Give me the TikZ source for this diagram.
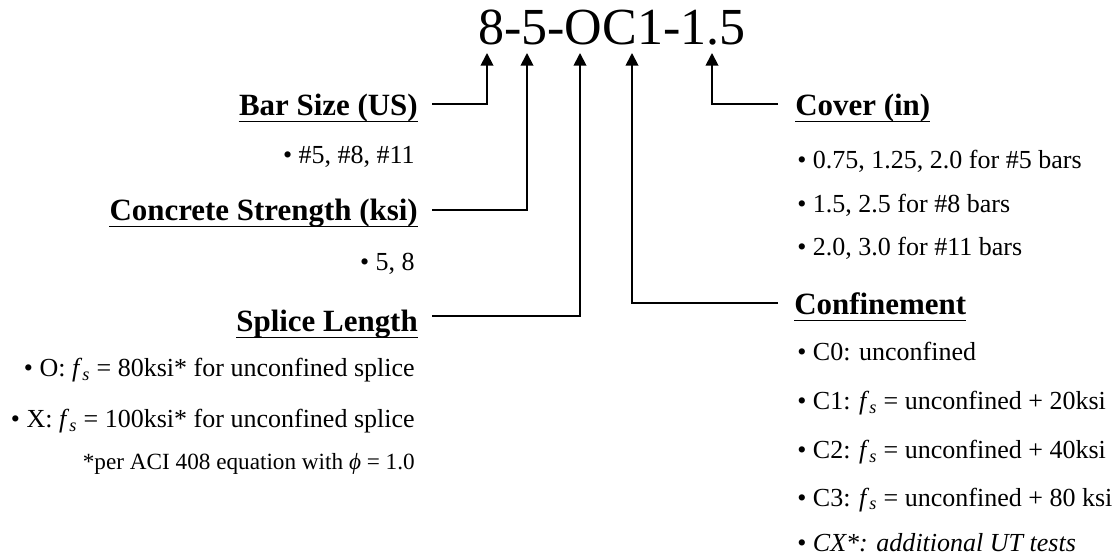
\documentclass[tikz,border=0pt]{standalone}
\usepackage{fontspec}
\setmainfont{Liberation Serif}
\usetikzlibrary{arrows.meta}
\newcommand{\fs}{\textit{f}\textsubscript{\textit{s}}}

\begin{document}
\begin{tikzpicture}[x=0.025cm,y=-0.025cm,>={Triangle[length=9pt,width=9pt]},
  conn/.style={line width=1.3pt,->},
  hd/.style={font=\fontsize{22}{26}\selectfont\bfseries,inner sep=0pt},
  itm/.style={font=\fontsize{18.5}{22}\selectfont,inner sep=0pt},
  uline/.style={line width=1pt}]
  \useasboundingbox (0,0) rectangle (1118,556);
  \node[inner sep=0pt,anchor=base west,font=\fontsize{37}{44}\selectfont] (code) at (478,45) {8-5-OC1-1.5};
  % tips below the characters of the code
  \foreach \n/\x in {bar/487,conc/527,spl/580,conf/632,cov/712}
    \coordinate (t\n) at (\x,53);
  % left column
  \node[hd,anchor=base east] (barsize) at (418,116) {Bar Size (US)};
  \node[itm,anchor=base east] (barlist) at (415,164) {• \#5, \#8, \#11};
  \node[hd,anchor=base east] (concrete) at (418,221) {Concrete Strength (ksi)};
  \node[itm,anchor=base east] (conclist) at (415,271) {• 5, 8};
  \node[hd,anchor=base east] (splice) at (418,332) {Splice Length};
  \node[itm,anchor=base east] (splO) at (415,377) {• O: \fs{} = 80ksi* for unconfined splice};
  \node[itm,anchor=base east] (splX) at (415,428) {• X: \fs{} = 100ksi* for unconfined splice};
  \node[inner sep=0pt,anchor=base east,font=\fontsize{16.5}{19}\selectfont] (splnote) at (415,469) {*per ACI 408 equation with \textit{ϕ} = 1.0};
  % right column
  \node[hd,anchor=base west] (cover) at (795,116) {Cover (in)};
  \node[itm,anchor=base west] (cov1) at (797,169) {• 0.75, 1.25, 2.0 for \#5 bars};
  \node[itm,anchor=base west] (cov2) at (797,213) {• 1.5, 2.5 for \#8 bars};
  \node[itm,anchor=base west] (cov3) at (797,256) {• 2.0, 3.0 for \#11 bars};
  \node[hd,anchor=base west] (confine) at (794,315) {Confinement};
  \node[itm,anchor=base west] (conf0) at (797,361) {• C0: unconfined};
  \node[itm,anchor=base west] (conf1) at (797,410) {• C1: \fs{} = unconfined + 20ksi};
  \node[itm,anchor=base west] (conf2) at (797,459) {• C2: \fs{} = unconfined + 40ksi};
  \node[itm,anchor=base west] (conf3) at (797,506) {• C3: \fs{} = unconfined + 80 ksi};
  \node[itm,anchor=base west] (confX) at (797,551) {• \textit{CX*: additional UT tests}};
  \foreach \n in {barsize,concrete,splice,cover,confine}
    \draw[uline] ([yshift=-4pt]\n.base west) -- ([yshift=-4pt]\n.base east);
  % leader lines
  \coordinate (ebar) at (432,104);
  \coordinate (econc) at (432,210);
  \coordinate (espl) at (432,316);
  \coordinate (econf) at (778,303);
  \coordinate (ecov) at (778,104);
  \foreach \n in {bar,conc,spl,conf,cov}
    \draw[conn] (e\n) -| (t\n);
\end{tikzpicture}
\end{document}
